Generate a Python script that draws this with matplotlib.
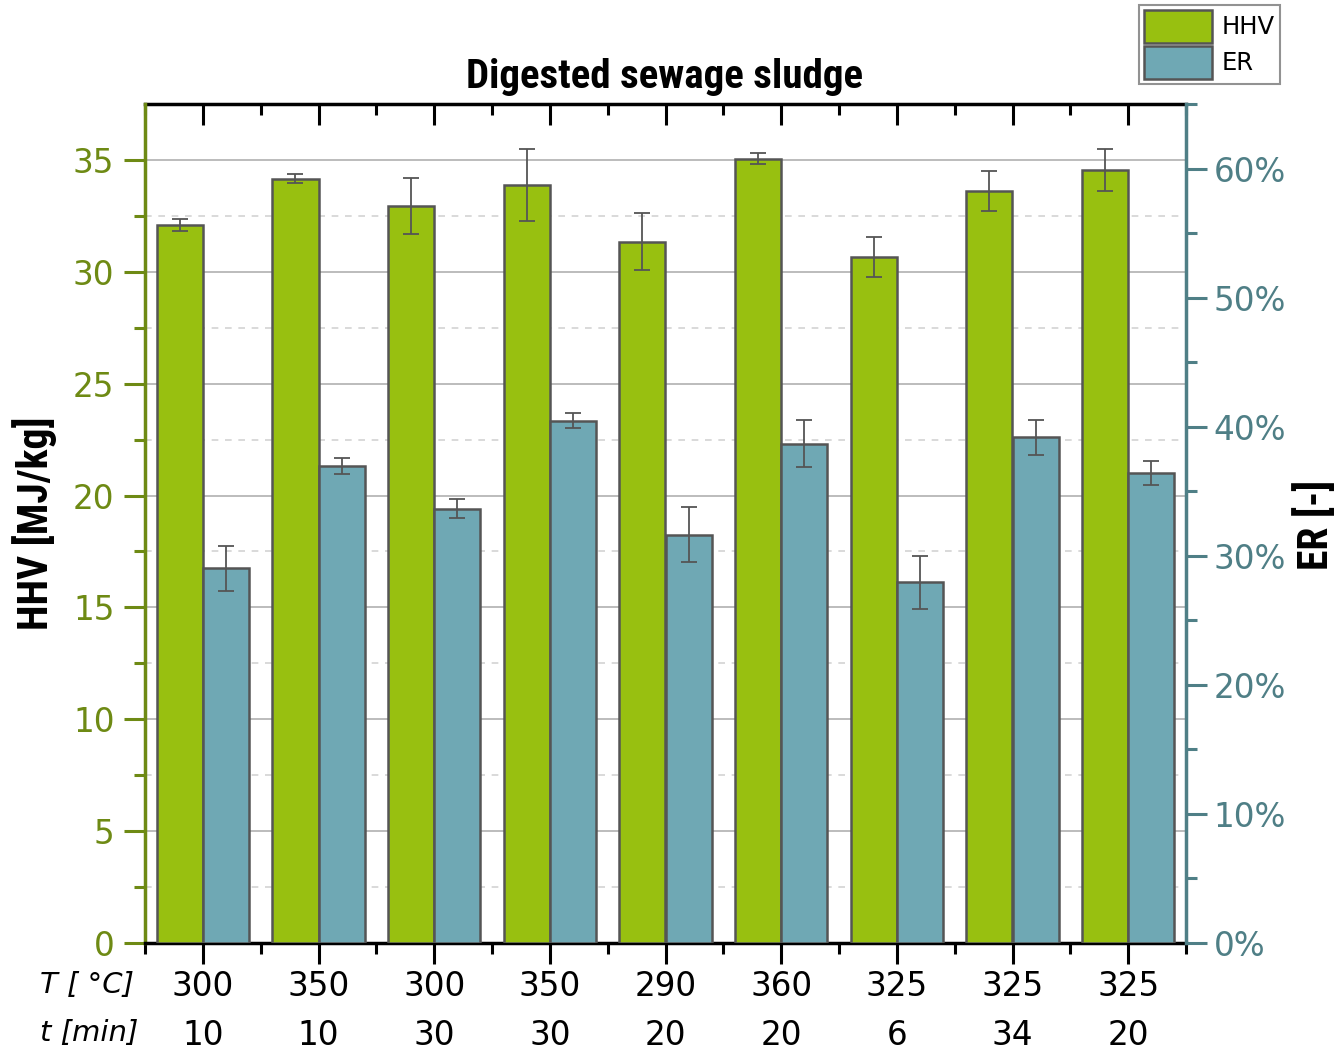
import numpy as np
import matplotlib.pyplot as plt
from matplotlib.ticker import MultipleLocator, FixedLocator, PercentFormatter

# Process conditions and measured values
temps = ['300', '350', '300', '350', '290', '360', '325', '325', '325']
times = ['10', '10', '30', '30', '20', '20', '6', '34', '20']
hhv = [32.09, 34.17, 32.94, 33.88, 31.35, 35.05, 30.66, 33.61, 34.54]
hhv_err = [0.27, 0.19, 1.24, 1.60, 1.26, 0.24, 0.89, 0.89, 0.94]
er = [29.04, 36.98, 33.64, 40.47, 31.63, 38.68, 27.95, 39.17, 36.43]
er_err = [1.74, 0.61, 0.75, 0.61, 2.13, 1.81, 2.05, 1.34, 0.95]

# Styling
hhv_color = '#98c010'
er_color = '#6fa8b4'
left_color = '#6e8a14'
right_color = '#4f7f86'
edge = '#555555'
bold_family = ['Roboto Condensed', 'Liberation Sans Narrow', 'DejaVu Sans']

plt.rcParams['font.family'] = ['DejaVu Sans']

W, H = 1339, 1055
fig = plt.figure(figsize=(W / 100, H / 100), dpi=100)
ax = fig.add_axes([145 / W, 112 / H, 1041 / W, 839 / H])

x = np.arange(len(temps))
w = 0.4
ekw = dict(ecolor=edge, elinewidth=1.3, capsize=6, capthick=1.3)

b1 = ax.bar(x - w / 2, hhv, w, yerr=hhv_err, color=hhv_color, edgecolor=edge,
            linewidth=1.8, zorder=3, error_kw=ekw)
ax.set_xlim(-0.5, len(temps) - 0.5)
ax.set_ylim(0, 37.5)

ax2 = ax.twinx()
b2 = ax2.bar(x + w / 2, er, w, yerr=er_err, color=er_color, edgecolor=edge,
             linewidth=1.8, zorder=3, error_kw=ekw)
ax2.set_ylim(0, 65)

# Grid from the HHV axis
ax.yaxis.set_major_locator(MultipleLocator(5))
ax.yaxis.set_minor_locator(FixedLocator(np.arange(2.5, 36, 5)))
ax.grid(which='major', axis='y', color='#b0b0b0', lw=1.2)
ax.grid(which='minor', axis='y', color='#d3d3d3', ls=(0, (4, 4)), lw=1.2)
ax.set_axisbelow(True)

# Spines
for s in ['top', 'right']:
    ax.spines[s].set_visible(False)
for s in ['top', 'left', 'bottom']:
    ax2.spines[s].set_visible(False)
ax.spines['left'].set_color(left_color)
ax.spines['left'].set_linewidth(2.5)
ax.spines['bottom'].set_linewidth(2.5)
ax2.spines['right'].set_color(right_color)
ax2.spines['right'].set_linewidth(2.5)

# Left axis ticks
ax.tick_params(axis='y', which='major', direction='out', length=15, width=2.2,
               color=left_color, labelcolor=left_color, labelsize=23.5, pad=7)
ax.tick_params(axis='y', which='minor', direction='out', length=8, width=2.2,
               color=left_color)

# Right axis ticks
ax2.yaxis.set_major_locator(MultipleLocator(10))
ax2.yaxis.set_minor_locator(MultipleLocator(5))
ax2.yaxis.set_major_formatter(PercentFormatter(100, decimals=0))
ax2.tick_params(axis='y', which='major', direction='out', length=15, width=2.2,
                color=right_color, labelcolor=right_color, labelsize=23.5, pad=5)
ax2.tick_params(axis='y', which='minor', direction='out', length=8, width=2.2,
                color=right_color)

# Bottom ticks with two rows of condition labels
ax.xaxis.set_major_locator(FixedLocator(x))
ax.xaxis.set_minor_locator(FixedLocator(np.arange(-0.5, len(temps), 1)))
ax.set_xticklabels([f'{t}\n{m}' for t, m in zip(temps, times)], linespacing=1.62)
ax.tick_params(axis='x', which='major', direction='out', length=15, width=2.2,
               labelsize=23.5, pad=4.5)
ax.tick_params(axis='x', which='minor', direction='out', length=8, width=2.2)

# Top spine with inward ticks
top = ax.secondary_xaxis('top')
top.xaxis.set_major_locator(FixedLocator(x))
top.xaxis.set_minor_locator(FixedLocator(np.arange(-0.5, len(temps), 1)))
top.tick_params(axis='x', which='major', direction='in', length=15, width=2.2,
                labeltop=False)
top.tick_params(axis='x', which='minor', direction='in', length=8, width=2.2)
top.spines['top'].set_linewidth(2.5)

# Texts
fig.text(665 / W, 1 - 77 / H, 'Digested sewage sludge', ha='center', va='center',
         fontsize=29.5, fontweight='bold', fontstretch='condensed', family=bold_family)
fig.text(35 / W, 1 - 523 / H, 'HHV [MJ/kg]', rotation=90, ha='center', va='center',
         fontsize=30, fontweight='bold', fontstretch='condensed', family=bold_family)
fig.text(1316 / W, 1 - 525 / H, 'ER [-]', rotation=90, ha='center', va='center',
         fontsize=30, fontweight='bold', fontstretch='condensed', family=bold_family)
fig.text(40 / W, 1 - 985 / H, 'T [ °C]', style='italic', ha='left', va='center',
         fontsize=21)
fig.text(40 / W, 1 - 1033 / H, 't [min]', style='italic', ha='left', va='center',
         fontsize=21)

leg = fig.legend([b1, b2], ['HHV', 'ER'], loc='upper right',
                 bbox_to_anchor=(1280 / W, 1 - 5 / H), fontsize=17.5, frameon=True,
                 fancybox=False, edgecolor='#777777', handlelength=2.8,
                 handleheight=1.69, borderpad=0.2, labelspacing=0.15,
                 handletextpad=0.4, borderaxespad=0)
leg.get_frame().set_linewidth(1.5)

fig.savefig('out.png', dpi=100)
